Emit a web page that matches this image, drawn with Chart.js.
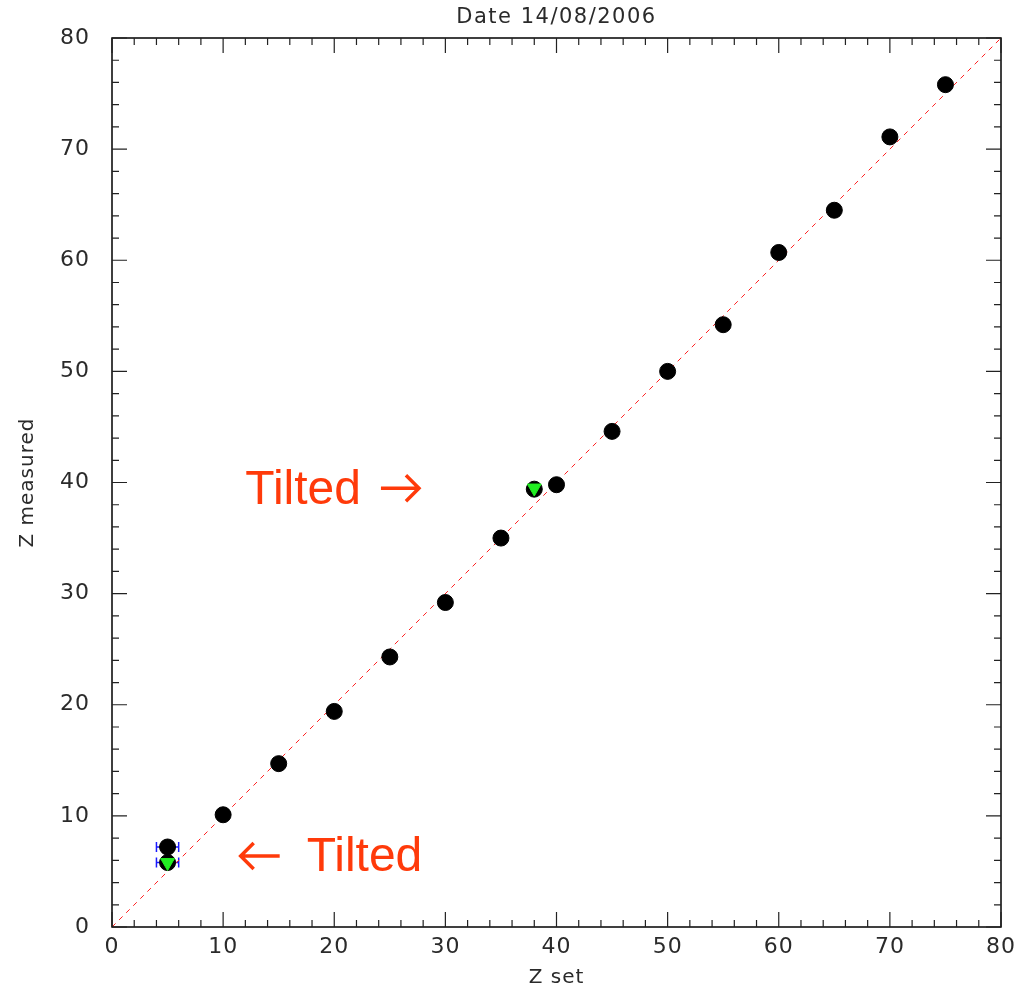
<!DOCTYPE html>
<html>
<head>
<meta charset="utf-8">
<script src="https://cdn.jsdelivr.net/npm/chart.js@4.4.1/dist/chart.umd.min.js"></script>
<style>
  html, body { margin: 0; padding: 0; background: #fff; }
  #wrap { width: 1030px; height: 990px; position: relative; }
</style>
</head>
<body>
<div id="wrap"><canvas id="calib"></canvas></div>
<script>
// Z calibration: measured vs set position, with the tilted runs in green.

const zSet      = [5, 5, 10, 15, 20, 25, 30, 35, 38, 40, 45, 50, 55, 60, 65, 70, 75];
const zMeasured = [7.2, 5.8, 10.1, 14.7, 19.4, 24.3, 29.2, 35.0, 39.4, 39.8, 44.6, 50.0, 54.2, 60.7, 64.5, 71.1, 75.8];

const tiltedSet      = [5, 38];
const tiltedMeasured = [5.8, 39.5];

// horizontal error bars (set, measured, half-width)
const errSet  = [5, 5];
const errMeas = [7.2, 5.8];
const errHalf = [1, 1];

const diagonal = [0, 80];

// annotation anchors in data units; arrow on the side given
const notes = [
  { text: 'Tilted', x: 12.0, y: 39.3, arrow: 'right' },
  { text: 'Tilted', x: 11.4, y: 6.2, arrow: 'left' },
];

const axisFont = '"DejaVu Sans", sans-serif';
const ink = '#2a2a2a';

// inward major/minor ticks on all four sides of the frame
const frameTicks = {
  id: 'frameTicks',
  beforeDraw(chart) {
    chart.ctx.letterSpacing = '1px';
  },
  afterDraw(chart) {
    const { ctx, chartArea: a, scales: { x, y } } = chart;
    ctx.save();
    ctx.strokeStyle = '#000';
    ctx.lineWidth = 1.5;
    ctx.strokeRect(a.left, a.top, a.right - a.left, a.bottom - a.top);
    ctx.lineWidth = 1.2;
    ctx.strokeStyle = '#222';
    for (let v = 0; v <= 80; v += 2) {
      const len = v % 10 === 0 ? 15 : 7;
      const px = x.getPixelForValue(v), py = y.getPixelForValue(v);
      ctx.beginPath();
      ctx.moveTo(px, a.bottom); ctx.lineTo(px, a.bottom - len);
      ctx.moveTo(px, a.top); ctx.lineTo(px, a.top + len);
      ctx.moveTo(a.left, py); ctx.lineTo(a.left + len, py);
      ctx.moveTo(a.right, py); ctx.lineTo(a.right - len, py);
      ctx.stroke();
    }
    // title drawn here so it can keep the wide letter spacing
    ctx.fillStyle = ink;
    ctx.font = '21px ' + axisFont;
    ctx.letterSpacing = '1.5px';
    ctx.textAlign = 'center';
    ctx.textBaseline = 'middle';
    ctx.fillText('Date 14/08/2006', (a.left + a.right) / 2, 18);
    ctx.restore();
  }
};

const errorBars = {
  id: 'errorBars',
  beforeDatasetsDraw(chart) {
    const { ctx, scales: { x, y } } = chart;
    ctx.save();
    ctx.strokeStyle = '#1a1aff';
    ctx.lineWidth = 1.5;
    errSet.forEach((s, i) => {
      const py = y.getPixelForValue(errMeas[i]);
      const x0 = x.getPixelForValue(s - errHalf[i]);
      const x1 = x.getPixelForValue(s + errHalf[i]);
      ctx.beginPath();
      ctx.moveTo(x0, py); ctx.lineTo(x1, py);
      ctx.moveTo(x0, py - 5); ctx.lineTo(x0, py + 5);
      ctx.moveTo(x1, py - 5); ctx.lineTo(x1, py + 5);
      ctx.stroke();
    });
    ctx.restore();
  }
};

function drawArrow(ctx, x0, x1, y) {
  const head = 13, dir = Math.sign(x1 - x0);
  ctx.beginPath();
  ctx.moveTo(x0, y); ctx.lineTo(x1, y);
  ctx.moveTo(x1 - dir * head, y - head); ctx.lineTo(x1, y); ctx.lineTo(x1 - dir * head, y + head);
  ctx.stroke();
}

const notesPlugin = {
  id: 'notes',
  afterDatasetsDraw(chart) {
    const { ctx, scales: { x, y } } = chart;
    ctx.save();
    ctx.letterSpacing = '0px';
    ctx.fillStyle = '#ff3a0a';
    ctx.strokeStyle = '#ff3a0a';
    ctx.lineWidth = 3.5;
    ctx.lineCap = 'butt';
    ctx.lineJoin = 'miter';
    ctx.font = '48px "Liberation Sans", Arial, sans-serif';
    ctx.textBaseline = 'middle';
    ctx.textAlign = 'left';
    for (const n of notes) {
      const px = x.getPixelForValue(n.x), py = y.getPixelForValue(n.y);
      const w = ctx.measureText(n.text).width;
      if (n.arrow === 'right') {
        ctx.fillText(n.text, px, py);
        drawArrow(ctx, px + w + 20, px + w + 58, py - 2);
      } else {
        drawArrow(ctx, px + 41, px + 2, py - 2);
        ctx.fillText(n.text, px + 68, py);
      }
    }
    ctx.restore();
  }
};

new Chart(document.getElementById('calib'), {
  type: 'scatter',
  data: {
    datasets: [
      {
        label: 'diagonal',
        type: 'line',
        data: diagonal.map(v => ({ x: v, y: v })),
        borderColor: '#ff2020',
        borderWidth: 1,
        borderDash: [5, 5],
        pointRadius: 0,
        fill: false,
        order: 3,
      },
      {
        label: 'measured',
        data: zSet.map((s, i) => ({ x: s, y: zMeasured[i] })),
        backgroundColor: '#000',
        borderColor: '#000',
        pointRadius: 8,
        pointHoverRadius: 8,
        order: 2,
      },
      {
        label: 'tilted',
        data: tiltedSet.map((s, i) => ({ x: s, y: tiltedMeasured[i] })),
        backgroundColor: '#22ee22',
        borderColor: '#22ee22',
        pointStyle: 'triangle',
        rotation: 180,
        pointRadius: 8,
        pointHoverRadius: 8,
        order: 1,
      },
    ]
  },
  options: {
    responsive: true,
    maintainAspectRatio: false,
    animation: false,
    layout: { padding: { left: 0, right: 29, top: 38, bottom: 0 } },
    plugins: {
      legend: { display: false },
      tooltip: { enabled: false },
      title: { display: false },
    },
    scales: {
      x: {
        type: 'linear',
        min: 0, max: 80,
        border: { display: false },
        grid: { display: false, drawTicks: false },
        ticks: { stepSize: 10, color: ink, padding: 7, font: { family: axisFont, size: 22 } },
        title: { display: true, text: 'Z set', color: ink, font: { family: axisFont, size: 20 }, padding: { top: 3, bottom: 0 } },
        afterFit: s => { s.height = 63; },
      },
      y: {
        type: 'linear',
        min: 0, max: 80,
        border: { display: false },
        grid: { display: false, drawTicks: false },
        ticks: { stepSize: 10, color: ink, padding: 22, font: { family: axisFont, size: 22 } },
        title: { display: true, text: 'Z measured', color: ink, font: { family: axisFont, size: 20 }, padding: { top: 16, bottom: 0 } },
        afterFit: s => { s.width = 112; },
      },
    },
  },
  plugins: [frameTicks, errorBars, notesPlugin],
});
</script>
</body>
</html>
